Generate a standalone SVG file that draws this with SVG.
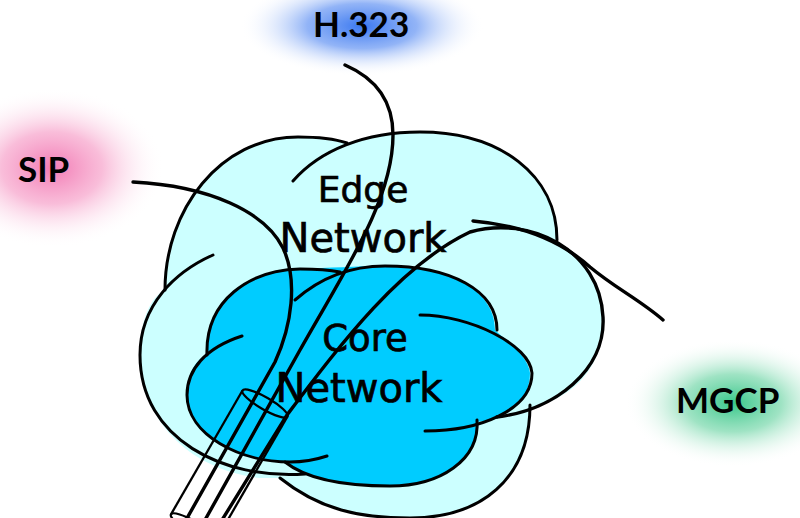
<svg xmlns="http://www.w3.org/2000/svg" width="800" height="518" viewBox="0 0 800 518">
<defs>
<radialGradient id="gSip"><stop offset="0" stop-color="#F27AB4"/><stop offset="0.45" stop-color="#F7A7CD" stop-opacity="0.75"/><stop offset="1" stop-color="#FFFFFF" stop-opacity="0"/></radialGradient>
<radialGradient id="gH"><stop offset="0" stop-color="#3A78F0"/><stop offset="0.45" stop-color="#6E9BF4" stop-opacity="0.75"/><stop offset="1" stop-color="#FFFFFF" stop-opacity="0"/></radialGradient>
<radialGradient id="gM"><stop offset="0" stop-color="#38C78A"/><stop offset="0.45" stop-color="#7FDAB0" stop-opacity="0.75"/><stop offset="1" stop-color="#FFFFFF" stop-opacity="0"/></radialGradient>
<style>
.edge{fill:#CCFFFF;stroke:none}
.core{fill:#00CCFF;stroke:none}
.arc{fill:none;stroke:#000;stroke-width:3;stroke-linecap:round}
.wire{fill:none;stroke:#000;stroke-width:3.4;stroke-linecap:round}
.tube{fill:none;stroke:#000;stroke-width:2.3}
.lbl{font-family:Lato,"Liberation Sans",sans-serif;font-weight:bold;font-size:35px;fill:#000}
.net{font-family:"DejaVu Sans",sans-serif;fill:#000;stroke:#000;stroke-width:0.7;text-anchor:middle}
</style>
</defs>
<rect width="800" height="518" fill="#FFFFFF"/>
<g id="sip">
<ellipse cx="52" cy="168" rx="112" ry="80" fill="url(#gSip)"/>
<text class="lbl" x="18" y="182">SIP</text>
</g>
<g id="h323">
<ellipse cx="362" cy="26" rx="122" ry="50" fill="url(#gH)"/>
<text class="lbl" x="313" y="37">H.323</text>
</g>
<g id="mgcp">
<ellipse cx="733" cy="403" rx="108" ry="64" fill="url(#gM)"/>
<text class="lbl" x="676" y="413">MGCP</text>
</g>
<g id="edge-network">
<path class="edge" d="M165,290 C165,210 220,137 298,137 C318,137 335,139 347,143 C372,135 395,132 420,132 C500,132 557,175 557,240 L560,245 C585,258 603,285 603,317 C605,365 575,398 530,408 C530,480 480,518 410,518 C360,518 320,510 280,478 L260,478 C190,470 140,420 140,355 C140,305 160,292 165,290 Z"/>
<path class="arc" d="M165,290 C165,210 220,137 298,137 C318,137 335,139 347,143"/>
<path class="arc" d="M293,181 C320,150 365,132 420,132 C500,132 557,175 557,240"/>
<path class="arc" d="M213,255 C175,272 140,305 140,355 C140,440 225,480 305,474"/>
<path class="arc" d="M280,478 C320,510 360,518 410,518 C480,518 530,480 530,405"/>
</g>
<g id="core-network">
<path class="core" d="M207,355 C205,300 250,270 300,269 C330,268 355,266 385,266 C450,266 495,290 495,330 C505,340 528,355 530,373 C530,400 510,418 477,422 C480,460 440,486 390,486 C340,486 305,478 285,462 L290,462 C240,462 187,435 187,395 C187,375 195,360 207,355 Z"/>
<path class="arc" d="M207,355 C205,300 250,270 300,269 C318,269 330,270 340,272"/>
<path class="arc" d="M295,300 C320,278 350,266 385,266 C450,266 497,290 497,330"/>
<path class="arc" d="M420,315 C470,315 530,345 532,373 C532,410 480,431 425,431"/>
<path class="arc" d="M477,420 C480,460 440,486 390,486 C340,486 305,478 285,462"/>
<path class="arc" d="M242,336 C205,348 187,370 187,395 C187,435 240,462 290,462 C305,462 318,459 327,456"/>
</g>
<g id="labels">
<text class="net" x="363" y="202" font-size="36">Edge</text>
<text class="net" x="363" y="252" font-size="40">Network</text>
<text class="net" x="365" y="351" font-size="37">Core</text>
<text class="net" x="359" y="402" font-size="40">Network</text>
</g>
<g id="connectors">
<path class="wire" d="M133,182 C210,186 265,212 283,248 C298,280 292,325 275,362 L186,520"/>
<path class="wire" d="M345,65 C375,78 393,100 393,135 C393,200 345,270 300,350 L205,520"/>
<path class="wire" d="M222,520 L287,415 C340,345 400,265 470,232 C530,215 600,250 603,317 C606,370 555,410 497,417"/>
<path class="wire" d="M473,221 C520,225 560,240 590,267 C615,288 640,300 663,320"/>
</g>
<g id="tube" transform="translate(265,403.5) rotate(30)">
<ellipse class="tube" cx="0" cy="0" rx="26" ry="6"/>
<line class="tube" x1="-26" y1="0" x2="-26" y2="143"/>
<line class="tube" x1="26" y1="0" x2="26" y2="143"/>
<ellipse class="tube" cx="0" cy="143" rx="26" ry="6"/>
</g>
</svg>
